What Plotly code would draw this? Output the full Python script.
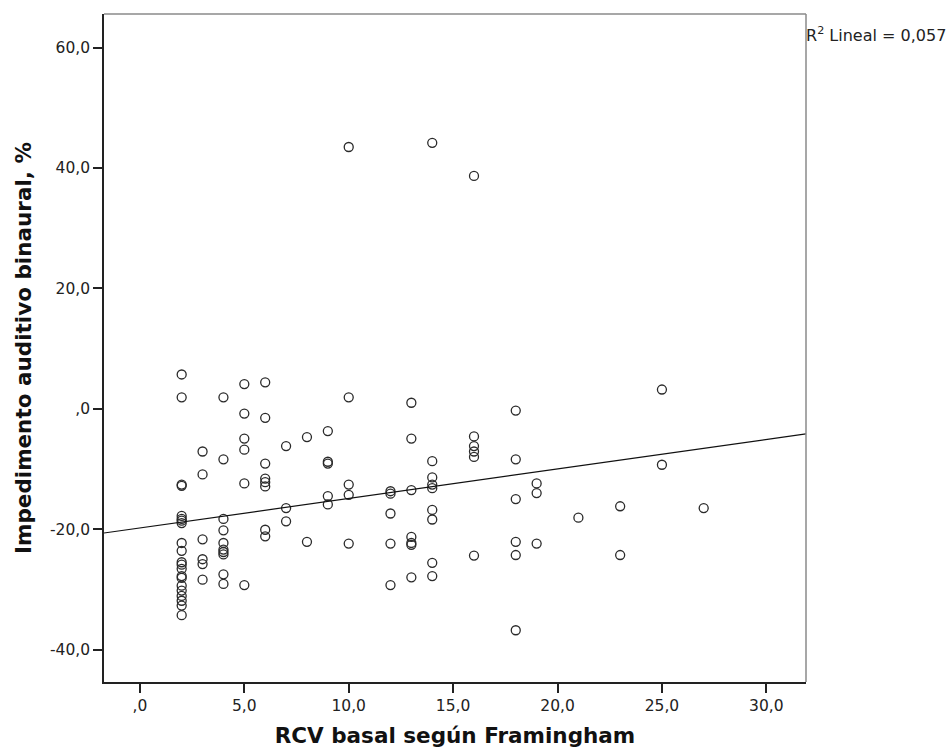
import plotly.graph_objects as go

# Data
rcv = ([2]*21 + [3]*6 + [4]*10 + [5]*6 + [6]*8 + [7]*3 + [8]*2 + [9]*5 + [10]*5 +
       [12]*5 + [13]*7 + [14]*9 + [16]*6 + [18]*6 + [19]*3 + [21] + [23]*2 + [25]*2 + [27])
impedimento = [
    5.7, 1.9, -12.6, -12.8, -17.8, -18.3, -18.6, -19.0, -22.3, -23.6, -25.5, -25.9, -26.6,
    -27.8, -28.1, -29.4, -30.2, -31.1, -31.9, -32.7, -34.3,
    -7.1, -10.9, -21.7, -25.0, -25.8, -28.4,
    1.9, -8.4, -18.3, -20.2, -22.3, -23.4, -23.8, -24.2, -27.5, -29.1,
    4.1, -0.8, -4.95, -6.8, -12.4, -29.3,
    4.4, -1.5, -9.1, -11.6, -12.2, -12.9, -20.1, -21.2,
    -6.2, -16.5, -18.7,
    -4.7, -22.1,
    -3.7, -8.8, -9.1, -14.5, -15.9,
    43.5, 1.9, -12.6, -14.3, -22.4,
    -13.7, -14.1, -17.4, -22.4, -29.3,
    1.0, -4.95, -13.5, -21.3, -22.3, -22.6, -28.0,
    44.2, -8.7, -11.4, -12.6, -13.2, -16.8, -18.4, -25.6, -27.8,
    38.7, -4.6, -6.2, -7.1, -8.0, -24.4,
    -0.3, -8.4, -15.0, -22.1, -24.3, -36.8,
    -12.4, -14.0, -22.4,
    -18.1,
    -16.2, -24.3,
    3.2, -9.3,
    -16.5,
]

fit_intercept = -19.8
fit_slope = 0.49
r2_text = "R<sup>2</sup> Lineal = 0,057"

x_range = [-1.72, 31.9]
y_range = [-45.4, 65.6]
x_ticks = [0, 5, 10, 15, 20, 25, 30]
x_ticklabels = [",0", "5,0", "10,0", "15,0", "20,0", "25,0", "30,0"]
y_ticks = [-40, -20, 0, 20, 40, 60]
y_ticklabels = ["-40,0", "-20,0", ",0", "20,0", "40,0", "60,0"]

font_fam = "DejaVu Sans, Verdana, sans-serif"

fig = go.Figure()
fig.add_trace(go.Scatter(
    x=rcv, y=impedimento, mode="markers",
    marker=dict(symbol="circle-open", size=9, color="#2a2a2a", line=dict(width=1.3, color="#2a2a2a")),
    showlegend=False, hoverinfo="x+y",
))
line_x = x_range
line_y = [fit_intercept + fit_slope * v for v in line_x]
fig.add_trace(go.Scatter(
    x=line_x, y=line_y, mode="lines",
    line=dict(color="#111111", width=1.2), showlegend=False, hoverinfo="skip",
))

fig.add_shape(type="line", xref="x domain", yref="y domain", x0=0, x1=1, y0=1, y1=1,
              line=dict(color="#8a8a8a", width=1.5))
fig.add_shape(type="line", xref="x domain", yref="y domain", x0=1, x1=1, y0=0, y1=1,
              line=dict(color="#8a8a8a", width=1.5))

fig.add_annotation(text=r2_text, xref="paper", yref="paper", x=1.0, y=0.97,
                   xanchor="left", yanchor="middle", showarrow=False, xshift=-2,
                   font=dict(family=font_fam, size=16, color="#222"))

fig.update_layout(
    width=951, height=756,
    margin=dict(l=104, r=145, t=14, b=69),
    plot_bgcolor="white", paper_bgcolor="white",
    font=dict(family=font_fam, color="#222"),
)
fig.update_xaxes(
    range=x_range, tickvals=x_ticks, ticktext=x_ticklabels,
    showgrid=False, zeroline=False, showline=True, linecolor="#222", linewidth=1.6,
    ticks="outside", ticklen=9, tickwidth=1.6, tickcolor="#222",
    tickfont=dict(size=15.5, family=font_fam, color="#222"),
    title=dict(text="<b>RCV basal según Framingham</b>", font=dict(size=21.5, family=font_fam, color="#111"), standoff=14),
)
fig.update_yaxes(
    range=y_range, tickvals=y_ticks, ticktext=y_ticklabels,
    showgrid=False, zeroline=False, showline=True, linecolor="#222", linewidth=1.6,
    ticks="outside", ticklen=9, tickwidth=1.6, tickcolor="#222",
    tickfont=dict(size=15.5, family=font_fam, color="#222"),
    title=dict(text="<b>Impedimento auditivo binaural, %</b>", font=dict(size=21.5, family=font_fam, color="#111"), standoff=12),
)

fig.write_html("out.html", config={"displayModeBar": False},
               post_script="document.body.style.margin='0';")
